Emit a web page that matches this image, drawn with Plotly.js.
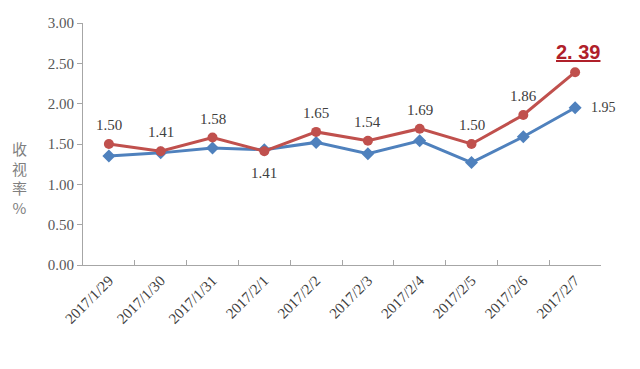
<!DOCTYPE html>
<html><head><meta charset="utf-8">
<script src="https://cdn.plot.ly/plotly-3.0.1.min.js"></script>
<style>html,body{margin:0;padding:0;background:#fff;}#chart{width:640px;height:369px;}</style>
</head><body><div id="chart"></div>
<script>
var categories = ['2017/1/29','2017/1/30','2017/1/31','2017/2/1','2017/2/2','2017/2/3','2017/2/4','2017/2/5','2017/2/6','2017/2/7'];
var redValues = [1.50, 1.41, 1.58, 1.41, 1.65, 1.54, 1.69, 1.50, 1.86, 2.39];
var blueValues = [1.35, 1.39, 1.45, 1.43, 1.52, 1.38, 1.54, 1.27, 1.59, 1.95];
var redLabelBelow = [false, false, false, true, false, false, false, false, false, false];
var yTicks = [0, 0.5, 1, 1.5, 2, 2.5, 3];
var yTickLabels = ['0.00','0.50','1.00','1.50','2.00','2.50','3.00'];

var RED = '#c0504d', BLUE = '#4f81bd';
var serif = 'Liberation Serif, DejaVu Serif, serif';

var traces = [
  {x: categories, y: blueValues, type: 'scatter', mode: 'lines+markers',
   line: {color: BLUE, width: 3}, marker: {symbol: 'diamond', size: 10, color: BLUE}, hoverinfo: 'skip'},
  {x: categories, y: redValues, type: 'scatter', mode: 'lines+markers',
   line: {color: RED, width: 3}, marker: {symbol: 'circle', size: 10, color: RED}, hoverinfo: 'skip'}
];

var annotations = [];
var last = redValues.length - 1;
for (var i = 0; i < last; i++) {
  annotations.push({x: categories[i], y: redValues[i], xref: 'x', yref: 'y',
    text: redValues[i].toFixed(2), showarrow: false,
    yshift: redLabelBelow[i] ? -22 : 19,
    font: {family: serif, size: 15, color: '#404040'}});
}
annotations.push({x: categories[last], y: redValues[last], xref: 'x', yref: 'y',
  text: '<u><b>' + redValues[last].toFixed(2).replace('.', '. ') + '</b></u>', showarrow: false,
  yshift: 20, xshift: 3,
  font: {family: 'Liberation Sans, Arial, sans-serif', size: 20, color: '#b0202a'}});
annotations.push({x: categories[last], y: blueValues[last], xref: 'x', yref: 'y',
  text: blueValues[last].toFixed(2), showarrow: false, xshift: 28,
  font: {family: serif, size: 14, color: '#404040'}});
annotations.push({x: -0.141, y: 0.36, xref: 'paper', yref: 'paper',
  text: '收<br>视<br>率<br>%', showarrow: false,
  font: {family: 'Noto Sans CJK SC, sans-serif', size: 15, color: '#7f7f7f'}});

var layout = {
  width: 640, height: 369,
  margin: {l: 83, r: 39, t: 23, b: 104},
  paper_bgcolor: '#fff', plot_bgcolor: '#fff',
  showlegend: false,
  xaxis: {type: 'category', range: [-0.5, categories.length - 0.5], tickson: 'boundaries', ticks: 'inside', ticklen: 5, automargin: false,
    tickcolor: '#a6a6a6', showline: true, linecolor: '#a6a6a6', linewidth: 1,
    showgrid: false, zeroline: false, tickangle: -45,
    tickfont: {family: serif, size: 15, color: '#404040'}},
  yaxis: {range: [0, 3], tickvals: yTicks, ticktext: yTickLabels, ticks: 'outside', ticklen: 5, automargin: false,
    tickcolor: '#a6a6a6', showline: true, linecolor: '#a6a6a6', linewidth: 1,
    showgrid: false, zeroline: false,
    tickfont: {family: serif, size: 15, color: '#595959'}},
  annotations: annotations
};
Plotly.newPlot('chart', traces, layout, {displayModeBar: false, staticPlot: true});
</script></body></html>
